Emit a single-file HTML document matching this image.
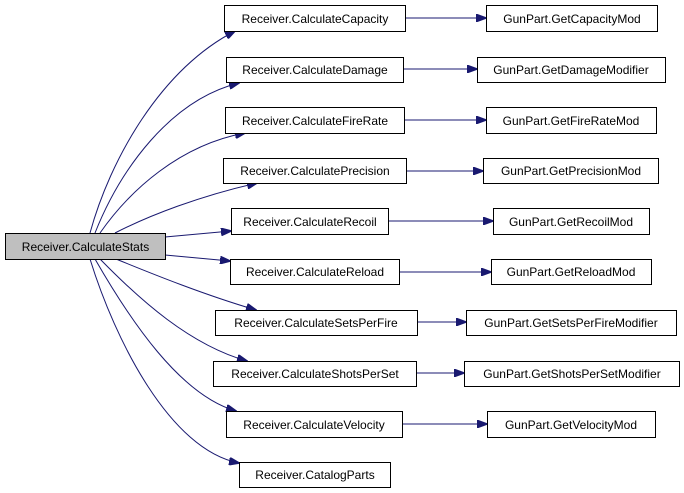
<!DOCTYPE html>
<html><head><meta charset="utf-8"><style>
html,body{margin:0;padding:0;background:#fff;width:684px;height:493px;overflow:hidden}
svg{display:block}
text{font-family:"Liberation Sans",Arial,sans-serif;font-size:12px;fill:#000}
rect{stroke:#000;stroke-width:1;fill:#fff}
path{fill:none;stroke:#191970;stroke-width:1}
</style></head><body>
<svg width="684" height="493" viewBox="0 0 684 493" xmlns="http://www.w3.org/2000/svg">
<defs>
<marker id="a" markerWidth="11" markerHeight="8" refX="10" refY="4" orient="auto" markerUnits="userSpaceOnUse">
<polygon points="0,0 11,4 0,8" fill="#191970" stroke="#191970"/>
</marker>
</defs>
<!-- edges from Stats -->
<path d="M90,233 C110,160 160,70 235,31" marker-end="url(#a)"/>
<path d="M95,233 C120,170 170,100 239,83" marker-end="url(#a)"/>
<path d="M100,233 C130,190 180,145 245,133" marker-end="url(#a)"/>
<path d="M115,233 C150,215 200,196 257,183" marker-end="url(#a)"/>
<path d="M165,237 L231,231" marker-end="url(#a)"/>
<path d="M165,255 L230,261" marker-end="url(#a)"/>
<path d="M116,259 C155,275 205,295 256,310" marker-end="url(#a)"/>
<path d="M100,259 C140,300 190,345 247,361" marker-end="url(#a)"/>
<path d="M95,259 C130,320 180,395 236,411" marker-end="url(#a)"/>
<path d="M90,259 C115,340 170,450 239,463" marker-end="url(#a)"/>
<!-- right edges -->
<path d="M405,18 L486,18" marker-end="url(#a)"/>
<path d="M403,69 L477,69" marker-end="url(#a)"/>
<path d="M404,120 L486,120" marker-end="url(#a)"/>
<path d="M406,171 L483,171" marker-end="url(#a)"/>
<path d="M388,221 L493,221" marker-end="url(#a)"/>
<path d="M399,272 L491,272" marker-end="url(#a)"/>
<path d="M417,322 L466,322" marker-end="url(#a)"/>
<path d="M416,373 L464,373" marker-end="url(#a)"/>
<path d="M402,424 L487,424" marker-end="url(#a)"/>
<!-- nodes -->
<rect x="5.5" y="233.5" width="160" height="26" style="fill:#bfbfbf"/>
<text x="85.5" y="251" text-anchor="middle">Receiver.CalculateStats</text>

<rect x="224.5" y="5.5" width="181" height="26"/><text x="315" y="23" text-anchor="middle">Receiver.CalculateCapacity</text>
<rect x="226.5" y="57.5" width="177" height="25"/><text x="315" y="74" text-anchor="middle">Receiver.CalculateDamage</text>
<rect x="225.5" y="107.5" width="179" height="26"/><text x="315" y="125" text-anchor="middle">Receiver.CalculateFireRate</text>
<rect x="223.5" y="158.5" width="183" height="25"/><text x="315" y="175" text-anchor="middle">Receiver.CalculatePrecision</text>
<rect x="231.5" y="208.5" width="157" height="26"/><text x="310" y="226" text-anchor="middle">Receiver.CalculateRecoil</text>
<rect x="230.5" y="259.5" width="169" height="25"/><text x="315" y="276" text-anchor="middle">Receiver.CalculateReload</text>
<rect x="215.5" y="310.5" width="202" height="25"/><text x="316" y="327" text-anchor="middle">Receiver.CalculateSetsPerFire</text>
<rect x="213.5" y="361.5" width="203" height="25"/><text x="315" y="378" text-anchor="middle">Receiver.CalculateShotsPerSet</text>
<rect x="226.5" y="411.5" width="176" height="26"/><text x="314" y="429" text-anchor="middle">Receiver.CalculateVelocity</text>
<rect x="239.5" y="462.5" width="151" height="25"/><text x="315" y="479" text-anchor="middle">Receiver.CatalogParts</text>

<rect x="486.5" y="5.5" width="171" height="26"/><text x="572" y="23" text-anchor="middle">GunPart.GetCapacityMod</text>
<rect x="477.5" y="57.5" width="188" height="25"/><text x="571" y="74" text-anchor="middle">GunPart.GetDamageModifier</text>
<rect x="486.5" y="107.5" width="170" height="26"/><text x="571" y="125" text-anchor="middle">GunPart.GetFireRateMod</text>
<rect x="483.5" y="158.5" width="175" height="25"/><text x="571" y="175" text-anchor="middle">GunPart.GetPrecisionMod</text>
<rect x="493.5" y="208.5" width="156" height="26"/><text x="571" y="226" text-anchor="middle">GunPart.GetRecoilMod</text>
<rect x="491.5" y="259.5" width="160" height="25"/><text x="571" y="276" text-anchor="middle">GunPart.GetReloadMod</text>
<rect x="466.5" y="310.5" width="210" height="25"/><text x="571" y="327" text-anchor="middle">GunPart.GetSetsPerFireModifier</text>
<rect x="464.5" y="361.5" width="215" height="25"/><text x="572" y="378" text-anchor="middle">GunPart.GetShotsPerSetModifier</text>
<rect x="487.5" y="411.5" width="168" height="26"/><text x="571" y="429" text-anchor="middle">GunPart.GetVelocityMod</text>
</svg>
</body></html>
